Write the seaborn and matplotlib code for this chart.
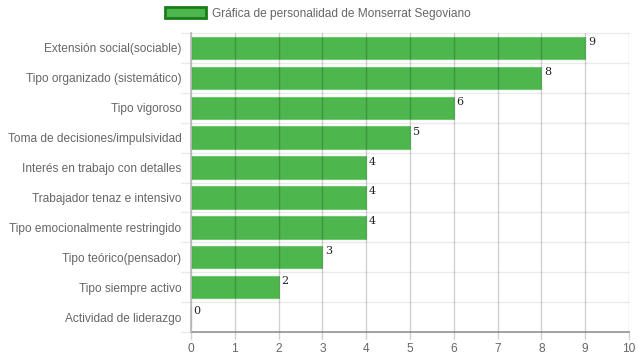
import matplotlib
matplotlib.use("Agg")
import matplotlib.pyplot as plt
import seaborn as sns
import pandas as pd
from matplotlib.patches import Patch

categories = [
    "Extensión social(sociable)",
    "Tipo organizado (sistemático)",
    "Tipo vigoroso",
    "Toma de decisiones/impulsividad",
    "Interés en trabajo con detalles",
    "Trabajador tenaz e intensivo",
    "Tipo emocionalmente restringido",
    "Tipo teórico(pensador)",
    "Tipo siempre activo",
    "Actividad de liderazgo",
]
values = [9, 8, 6, 5, 4, 4, 4, 3, 2, 0]
series_name = "Gráfica de personalidad de Monserrat Segoviano"
x_ticks = list(range(0, 11))

df = pd.DataFrame({"cat": categories, "val": values})

sns.set_theme(style="white")
plt.rcParams["font.family"] = ["Liberation Sans", "DejaVu Sans"]

fig = plt.figure(figsize=(6.39, 3.6), dpi=100)
ax = fig.add_axes([191/639, 1-332/360, (629-191)/639, (332-33)/360])

bar_color = "#4db64d"
sns.barplot(data=df, x="val", y="cat", orient="h", ax=ax, color=bar_color,
            width=0.75, saturation=1, edgecolor="#6fc86f", linewidth=0.8, zorder=2)

ax.set_xlim(0, 10)
ax.set_ylim(len(categories) - 0.5, -0.5)
ax.set_xticks(x_ticks)
ax.set_xlabel("")
ax.set_ylabel("")

# grid
for x in x_ticks:
    ax.axvline(x, color="#000000", alpha=0.18, lw=1, zorder=3)
for i in range(len(categories) + 1):
    ax.axhline(i - 0.5, color="#000000", alpha=0.08, lw=1, zorder=1, clip_on=False)
    ax.plot([-10/43.8, 0], [i - 0.5, i - 0.5], color="#000000", alpha=0.08, lw=1,
            clip_on=False, transform=ax.transData)
for x in x_ticks:
    ax.plot([x, x], [len(categories) - 0.5, len(categories) - 0.5 + 0.25],
            color="#000000", alpha=0.18, lw=1, clip_on=False)

for s in ["top", "right"]:
    ax.spines[s].set_visible(False)
ax.spines["left"].set_color("#bbbbbb")
ax.spines["bottom"].set_color("#999999")
ax.spines["left"].set_zorder(4)

ax.tick_params(axis="both", length=0, labelsize=8.6, colors="#666666")
ax.tick_params(axis="x", pad=8)
ax.tick_params(axis="y", pad=7)

for i, v in enumerate(values):
    ax.text(v + 0.06, i - 0.2, str(v), fontsize=8, color="#222222",
            family="DejaVu Serif", ha="left", va="center", zorder=5)

handle = Patch(facecolor=bar_color, edgecolor="#1a7d1a", linewidth=2)
fig.legend(handles=[handle], labels=[series_name], loc="upper center",
           bbox_to_anchor=(0.497, 1.01), frameon=False, fontsize=8.6,
           labelcolor="#666666", handlelength=3.5, handleheight=1.0,
           handletextpad=0.45)

fig.savefig("out.png", dpi=100)
